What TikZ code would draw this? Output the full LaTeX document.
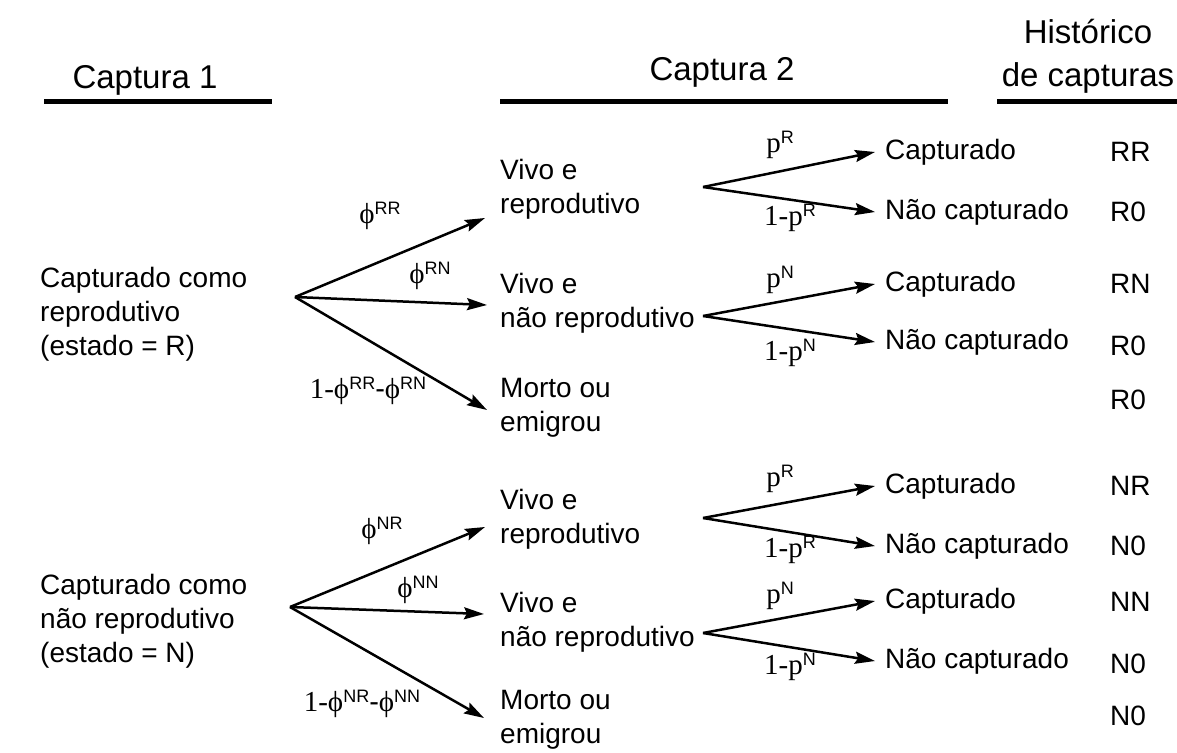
\documentclass[tikz,border=0pt]{standalone}
\usepackage{fontspec}
\setmainfont{Liberation Sans}
\newfontfamily\tmsfont{Liberation Serif}
\usetikzlibrary{arrows.meta}

% raised state letters after phi and p
\newcommand{\hsup}[1]{\raisebox{9pt}{\fontsize{18}{18}\selectfont #1}}
\newcommand{\phst}[1]{{\tmsfont ϕ}\hsup{#1}}
\newcommand{\pst}[1]{{\tmsfont p}\hsup{#1}}
\newcommand{\mn}{{\tmsfont 1-}}

\begin{document}
\begin{tikzpicture}[
  x=1pt,y=-1pt,
  head/.style={font=\fontsize{33}{43}\selectfont,inner sep=0pt,align=center},
  lbl/.style={font=\fontsize{28}{34}\selectfont,inner sep=0pt,anchor=west,align=left},
  prob/.style={font=\fontsize{29}{34}\selectfont,inner sep=0pt},
  rule/.style={line width=5pt},
  arrow/.style={-{Stealth[length=20pt,width=12pt,inset=3pt]},line width=2.5pt}
]
\useasboundingbox (0,0) rectangle (1177,752);

% column headings
\node[head] (cap1) at (145,80) {Captura 1};
\node[head] (cap2) at (722,72) {Captura 2};
\node[head] (hist) at (1088,56) {Histórico\\de capturas};
\draw[rule] (44,101) -- (272,101);
\draw[rule] (500,101) -- (948,101);
\draw[rule] (997,101) -- (1177,101);

% first capture
\node[lbl] (sr) at (40,314) {Capturado como\\reprodutivo\\(estado = R)};
\node[lbl] (sn) at (40,621) {Capturado como\\não reprodutivo\\(estado = N)};
\coordinate (or) at (295,297);
\coordinate (on) at (290,607);

% states at the second capture
\node[lbl] (rvr) at (500,189) {Vivo e\\reprodutivo};
\node[lbl] (rvn) at (500,303) {Vivo e\\não reprodutivo};
\node[lbl] (rmo) at (500,408) {Morto ou\\emigrou};
\node[lbl] (nvr) at (500,519) {Vivo e\\reprodutivo};
\node[lbl] (nvn) at (500,622) {Vivo e\\não reprodutivo};
\node[lbl] (nmo) at (500,720) {Morto ou\\emigrou};

\coordinate (o1) at (703,187);
\coordinate (o2) at (703,316);
\coordinate (o3) at (703,518);
\coordinate (o4) at (703,633);

% captured or not
\node[lbl] (c1) at (885,152) {Capturado};
\node[lbl] (u1) at (885,212) {Não capturado};
\node[lbl] (c2) at (885,284) {Capturado};
\node[lbl] (u2) at (885,342) {Não capturado};
\node[lbl] (c3) at (885,486) {Capturado};
\node[lbl] (u3) at (885,546) {Não capturado};
\node[lbl] (c4) at (885,601) {Capturado};
\node[lbl] (u4) at (885,661) {Não capturado};

% capture histories
\node[lbl] (h1) at (1110,152) {RR};
\node[lbl] (h2) at (1110,212) {R0};
\node[lbl] (h3) at (1110,284) {RN};
\node[lbl] (h4) at (1110,346) {R0};
\node[lbl] (h5) at (1110,400) {R0};
\node[lbl] (h6) at (1110,486) {NR};
\node[lbl] (h7) at (1110,546) {N0};
\node[lbl] (h8) at (1110,602) {NN};
\node[lbl] (h9) at (1110,664) {N0};
\node[lbl] (h10) at (1110,716) {N0};

% transition probabilities
\node[prob] (frr) at (380,216) {\phst{RR}};
\node[prob] (frn) at (430,276) {\phst{RN}};
\node[prob] (fr0) at (368,391) {\mn\phst{RR}-\phst{RN}};
\node[prob] (fnr) at (382,531) {\phst{NR}};
\node[prob] (fnn) at (418,590) {\phst{NN}};
\node[prob] (fn0) at (362,704) {\mn\phst{NR}-\phst{NN}};

% capture probabilities
\node[prob] (p1) at (780,145) {\pst{R}};
\node[prob] (q1) at (790,218) {\mn\pst{R}};
\node[prob] (p2) at (780,280) {\pst{N}};
\node[prob] (q2) at (790,353) {\mn\pst{N}};
\node[prob] (p3) at (780,479) {\pst{R}};
\node[prob] (q3) at (790,550) {\mn\pst{R}};
\node[prob] (p4) at (780,596) {\pst{N}};
\node[prob] (q4) at (790,667) {\mn\pst{N}};

% branches
\draw[arrow] (or) -- ([xshift=-15pt,yshift=-29pt]rvr.west);
\draw[arrow] (or) -- ([xshift=-13pt,yshift=-2pt]rvn.west);
\draw[arrow] (or) -- ([xshift=-13pt,yshift=-2pt]rmo.west);
\draw[arrow] (on) -- ([xshift=-15pt,yshift=-8pt]nvr.west);
\draw[arrow] (on) -- ([xshift=-16pt,yshift=8pt]nvn.west);
\draw[arrow] (on) -- ([xshift=-16pt,yshift=2pt]nmo.west);

\draw[arrow] (o1) -- ([xshift=-10pt]c1.west);
\draw[arrow] (o1) -- ([xshift=-10pt]u1.west);
\draw[arrow] (o2) -- ([xshift=-10pt]c2.west);
\draw[arrow] (o2) -- ([xshift=-10pt]u2.west);
\draw[arrow] (o3) -- ([xshift=-10pt]c3.west);
\draw[arrow] (o3) -- ([xshift=-10pt]u3.west);
\draw[arrow] (o4) -- ([xshift=-10pt]c4.west);
\draw[arrow] (o4) -- ([xshift=-10pt]u4.west);
\end{tikzpicture}
\end{document}
